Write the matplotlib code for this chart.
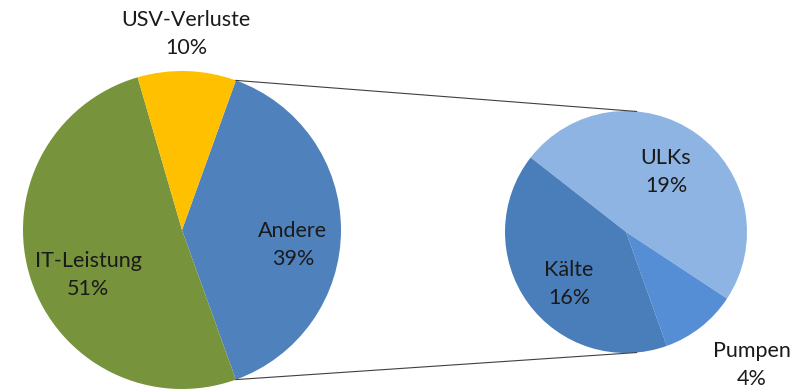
import numpy as np
import matplotlib.pyplot as plt

# main pie
main_labels = ["Andere", "IT-Leistung", "USV-Verluste"]
main_values = [39, 51, 10]
main_colors = ["#4F81BD", "#77933C", "#FFC000"]

# breakdown of "Andere"
sub_labels = ["ULKs", "Pumpen", "Kälte"]
sub_values = [19, 4, 16]
sub_colors = ["#8EB4E3", "#558ED5", "#4A7EBB"]

W, H = 796, 392
fig = plt.figure(figsize=(W / 100, H / 100), dpi=100)
ax = fig.add_axes([0, 0, 1, 1])

c1, r1 = (182, H - 230), 159
c2, r2 = (626, H - 232), 121

start1 = main_values[0] / sum(main_values) * 360 / 2
w1, _ = ax.pie(main_values, colors=main_colors, startangle=start1, counterclock=False,
               center=c1, radius=r1, wedgeprops=dict(linewidth=0), frame=True)
w2, _ = ax.pie(sub_values, colors=sub_colors, startangle=142, counterclock=False,
               center=c2, radius=r2, wedgeprops=dict(linewidth=0), frame=True)

# connector lines from the "Andere" wedge to the second pie
a = np.deg2rad(start1)
p_top = (c1[0] + r1 * np.cos(a), c1[1] + r1 * np.sin(a))
p_bot = (c1[0] + r1 * np.cos(a), c1[1] - r1 * np.sin(a))
b = np.deg2rad(85)
q_top = (c2[0] + r2 * np.cos(b), c2[1] + r2 * np.sin(b))
q_bot = (c2[0] + r2 * np.cos(b), c2[1] - r2 * np.sin(b))
ax.plot([p_top[0], q_top[0]], [p_top[1], q_top[1]], color="#404040", lw=0.8)
ax.plot([p_bot[0], q_bot[0]], [p_bot[1], q_bot[1]], color="#404040", lw=0.8)

# label positions (pixel coords from top)
main_pos = [(293, 245), (88, 275), (186, 34)]
sub_pos = [(666, 172), (752, 365), (569, 284)]

font = dict(family="Lato", fontsize=15.5, color="#1a1a1a", ha="center", va="center",
            linespacing=1.55)
for lab, v, (x, y) in zip(main_labels, main_values, main_pos):
    ax.text(x, H - y, f"{lab}\n{v}%", **font)
for lab, v, (x, y) in zip(sub_labels, sub_values, sub_pos):
    ax.text(x, H - y, f"{lab}\n{v}%", **font)

ax.set_xlim(0, W)
ax.set_ylim(0, H)
ax.set_aspect("equal")
ax.axis("off")

fig.savefig("out.png", dpi=100)
